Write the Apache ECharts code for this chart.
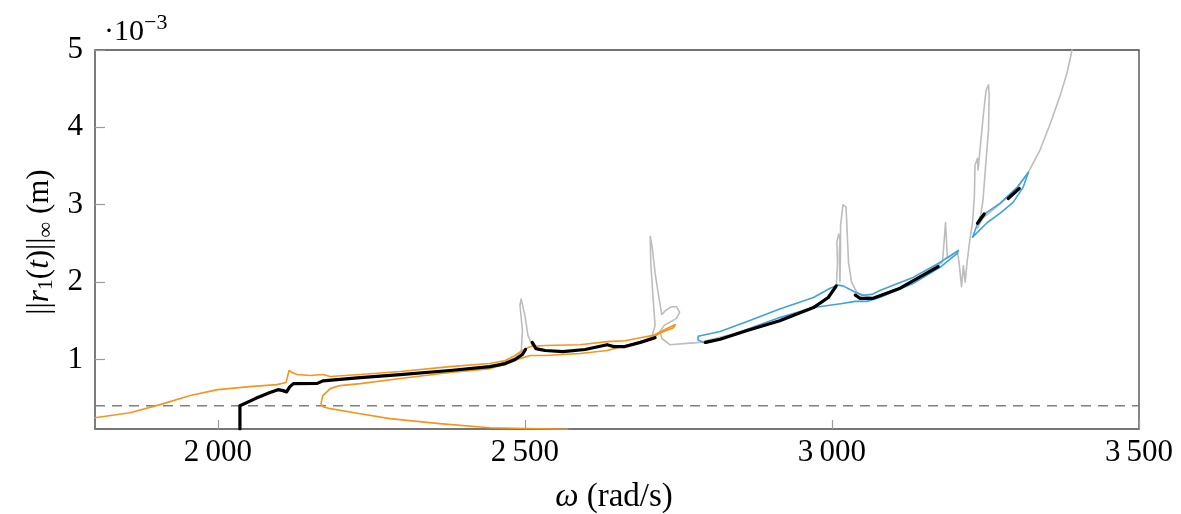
<!DOCTYPE html>
<html><head><meta charset="utf-8">
<script src="https://cdn.jsdelivr.net/npm/echarts@6/dist/echarts.min.js"></script>
<style>html,body{margin:0;padding:0;background:#fff}#c{width:1181px;height:514px}</style>
</head><body><div id="c"></div>
<script>
// values in units of 1e-3 m (as displayed with the ·10^-3 multiplier)
const xTicks = [2000, 2500, 3000, 3500];
const xTickLabels = ['2\u2009000', '2\u2009500', '3\u2009000', '3\u2009500'];
const yTicks = [1, 2, 3, 4, 5];
const threshold = [[1800, 0.4], [3500, 0.4]];

const orange = [[1800,0.246],[1857,0.311],[1906,0.415],[1955,0.532],[2000,0.609],[2052,0.648],[2096,0.674],[2111,0.700],[2116,0.856],[2121,0.830],[2129,0.804],[2150,0.791],[2171,0.804],[2183,0.778],[2232,0.804],[2297,0.843],[2378,0.907],[2443,0.946],[2468,0.985],[2484,1.05],[2496,1.115],[2509,1.166],[2533,1.18],[2590,1.19],[2634,1.23],[2663,1.24],[2688,1.28],[2709,1.31],[2729,1.39],[2745,1.45],[2742,1.41],[2720,1.34],[2704,1.26],[2688,1.22],[2663,1.18],[2634,1.115],[2590,1.076],[2533,1.05],[2509,1.05],[2492,1.01],[2468,0.933],[2443,0.881],[2378,0.83],[2297,0.752],[2232,0.687],[2199,0.661],[2183,0.622],[2171,0.531],[2168,0.428],[2171,0.389],[2183,0.363],[2232,0.298],[2280,0.234],[2361,0.169],[2443,0.117],[2525,0.104],[2570,0.095]];

const gray = [[2460,0.946],[2484,1.02],[2494,1.09],[2496,1.375],[2492,1.70],[2494,1.78],[2497,1.76],[2500,1.57],[2505,1.31],[2512,1.18],[2525,1.115],[2562,1.10],[2598,1.128],[2634,1.19],[2663,1.166],[2688,1.22],[2707,1.297],[2712,1.44],[2709,1.76],[2705,2.25],[2704,2.59],[2707,2.47],[2712,2.12],[2718,1.81],[2723,1.58],[2729,1.63],[2738,1.68],[2747,1.68],[2752,1.61],[2747,1.53],[2736,1.48],[2727,1.44],[2720,1.36],[2723,1.27],[2736,1.19],[2769,1.21],[2785,1.22],[2862,1.374],[2915,1.50],[2970,1.67],[2997,1.83],[3007,1.92],[3009,2.25],[3008,2.52],[3011,2.62],[3013,2.55],[3012,2.35],[3013,2.0],[3014,2.4],[3014,2.73],[3018,3.0],[3023,2.97],[3025,2.61],[3027,2.255],[3032,2.0],[3041,1.86],[3067,1.79],[3111,1.92],[3173,2.22],[3180,2.255],[3185,2.77],[3188,2.31],[3196,2.35],[3204,2.40],[3207,2.255],[3211,1.94],[3214,2.21],[3217,2.00],[3220,2.255],[3225,2.57],[3229,2.77],[3232,3.12],[3233,3.51],[3237,3.60],[3238,3.45],[3241,3.70],[3246,4.12],[3251,4.48],[3255,4.55],[3256,4.42],[3255,3.97],[3251,3.58],[3246,3.06],[3241,2.80],[3237,2.70],[3246,2.83],[3274,3.01],[3301,3.21],[3320,3.42],[3339,3.71],[3356,4.06],[3372,4.42],[3383,4.71],[3391,5.0]];

const blueA = [[2782,1.30],[2818,1.36],[2862,1.49],[2915,1.65],[2970,1.80],[2997,1.92],[3009,1.96],[3018,1.95],[3035,1.88],[3049,1.83],[3065,1.84],[3078,1.89],[3132,2.06],[3173,2.24],[3206,2.41],[3204,2.37],[3176,2.19],[3132,1.98],[3078,1.80],[3057,1.75],[3038,1.75],[3014,1.72],[2970,1.67],[2915,1.54],[2862,1.39],[2818,1.26],[2794,1.21],[2782,1.25],[2782,1.30]];
const blueB = [[3229,2.58],[3241,2.84],[3274,3.02],[3301,3.22],[3320,3.42],[3311,3.22],[3295,3.03],[3274,2.89],[3253,2.77],[3229,2.58]];

const black1 = [[2036,0.1],[2036,0.40],[2061,0.493],[2085,0.571],[2098,0.609],[2106,0.596],[2112,0.58],[2117,0.645],[2123,0.687],[2162,0.690],[2171,0.722],[2232,0.765],[2297,0.804],[2378,0.856],[2443,0.907],[2468,0.946],[2484,0.998],[2496,1.063],[2501,1.128]];
const black2 = [[2512,1.22],[2518,1.14],[2533,1.115],[2562,1.10],[2598,1.128],[2634,1.19],[2644,1.166],[2663,1.166],[2688,1.22],[2712,1.28]];
const black3 = [[2794,1.22],[2818,1.26],[2862,1.374],[2915,1.50],[2970,1.67],[2994,1.80],[3007,1.95]];
const black4 = [[3038,1.83],[3046,1.79],[3067,1.79],[3111,1.92],[3173,2.20]];
const black5 = [[3237,2.76],[3248,2.88]];
const black6 = [[3287,3.08],[3305,3.21]];

const FONT = 'Liberation Serif';
const C_ORANGE = '#F7941D', C_BLUE = '#3FA2DC', C_GRAY = '#BDBDBD';

function line(data, color, width, z) {
  return {type:'line', data, showSymbol:false, symbol:'none', animation:false, z,
    lineStyle:{color, width, cap:'round', join:'round'}, emphasis:{disabled:true}, silent:true};
}

const chart = echarts.init(document.getElementById('c'), null, {renderer:'canvas'});
chart.setOption({
  animation:false,
  grid:{left:95, right:42, top:50, bottom:85, show:true, borderColor:'#444', borderWidth:1.3, backgroundColor:'transparent'},
  xAxis:{type:'value', min:1800, max:3500,
    axisLine:{show:true, lineStyle:{color:'#7a7a7a', width:1.5}},
    axisTick:{show:true, inside:true, length:9, customValues:xTicks, lineStyle:{color:'#9a9a9a', width:1.2}},
    axisLabel:{customValues:xTicks, margin:8, color:'#000', fontFamily:FONT, fontSize:31,
      formatter:(v)=>xTickLabels[xTicks.indexOf(v)]},
    splitLine:{show:false}},
  yAxis:{type:'value', min:0.1, max:5,
    axisLine:{show:true, lineStyle:{color:'#7a7a7a', width:1.5}},
    axisTick:{show:true, inside:true, length:10, customValues:yTicks, lineStyle:{color:'#9a9a9a', width:1.2}},
    axisLabel:{customValues:yTicks, margin:12, color:'#000', fontFamily:FONT, fontSize:31},
    splitLine:{show:false}},
  series:[
    Object.assign(line(threshold, '#808080', 1.5, 1), {lineStyle:{color:'#808080', width:1.5, type:[10,7]}}),
    line(gray, C_GRAY, 1.6, 2),
    line(orange, C_ORANGE, 1.6, 3),
    line(blueA, C_BLUE, 1.6, 3),
    line(blueB, C_BLUE, 1.6, 3),
    line(black1, '#000', 3.2, 4),
    line(black2, '#000', 3.2, 4),
    line(black3, '#000', 3.2, 4),
    line(black4, '#000', 3.2, 4),
    line(black5, '#000', 3.2, 4),
    line(black6, '#000', 3.2, 4)
  ],
  graphic:[
    {type:'text', left:104, top:12, style:{
      rich:{b:{fontFamily:FONT, fontSize:30, fill:'#000', padding:[10,0,0,0]}, s:{fontFamily:FONT, fontSize:22, fill:'#000', padding:[0,0,8,0]}},
      text:'{b|\u00b710}{s|\u22123}'}},
    {type:'text', x:614, y:497, style:{
      rich:{i:{fontFamily:FONT, fontStyle:'italic', fontSize:33, fill:'#000'}, n:{fontFamily:FONT, fontSize:33, fill:'#000'}},
      text:'{i|\u03c9}{n| (rad/s)}', align:'center', verticalAlign:'middle'}},
    {type:'text', x:40, y:242, rotation:Math.PI/2, style:{
      rich:{n:{fontFamily:FONT, fontSize:31, fill:'#000'}, i:{fontFamily:FONT, fontStyle:'italic', fontSize:31, fill:'#000'},
        s:{fontFamily:FONT, fontSize:22, fill:'#000', padding:[13,0,0,0]}},
      text:'{n|||}{i|r}{s|1}{n|(}{i|t}{n|)||}{s|\u221e}{n| (m)}', align:'center', verticalAlign:'middle'}}
  ]
});
</script></body></html>
